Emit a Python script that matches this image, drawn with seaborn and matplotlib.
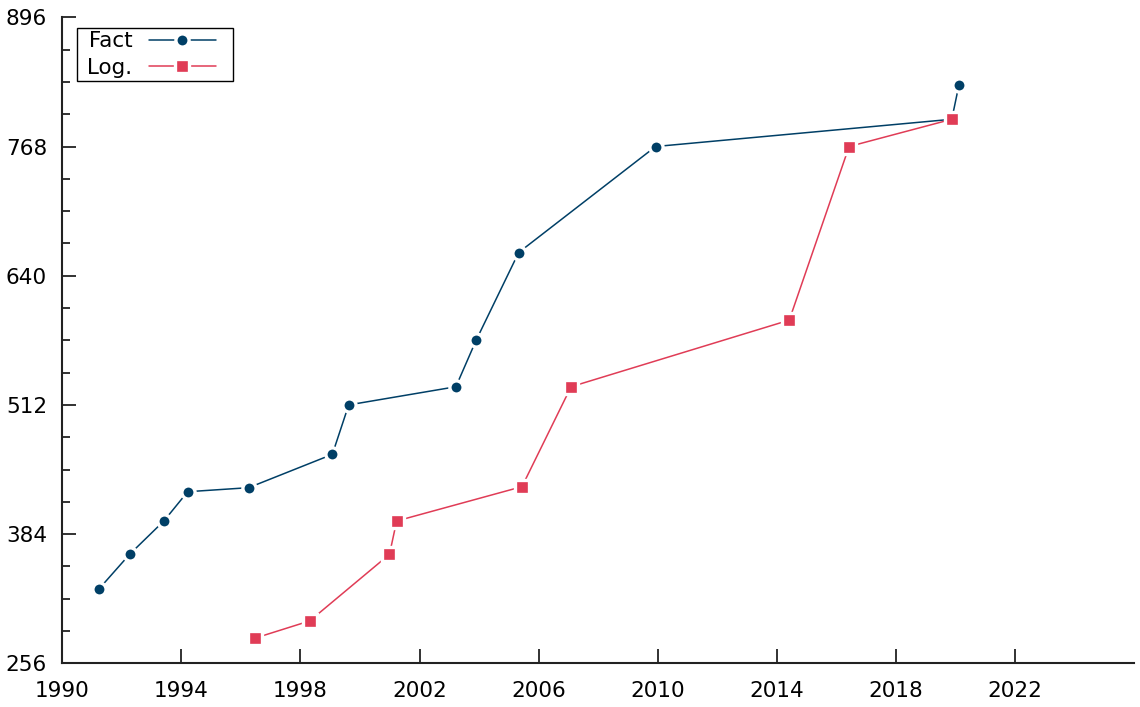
import matplotlib
matplotlib.use("Agg")
import matplotlib.pyplot as plt
from matplotlib.ticker import MultipleLocator
from matplotlib.lines import Line2D
import seaborn as sns
import pandas as pd

fact_year = [1991.24, 1992.26, 1993.41, 1994.21, 1996.26, 1999.07, 1999.62,
             2003.22, 2003.90, 2005.33, 2009.93, 2019.88, 2020.12]
fact_val = [330, 364, 397, 426, 430, 463, 512, 530, 576, 663, 768, 795, 829]
log_year = [1996.48, 1998.31, 2000.99, 2001.23, 2005.44, 2007.09, 2014.42,
            2016.43, 2019.88]
log_val = [281, 298, 364, 397, 431, 530, 596, 768, 795]
series_names = ["Fact", "Log."]
x_ticks = [1990, 1994, 1998, 2002, 2006, 2010, 2014, 2018, 2022]
y_ticks = [256, 384, 512, 640, 768, 896]

df = pd.concat([
    pd.DataFrame({"year": fact_year, "value": fact_val, "series": series_names[0]}),
    pd.DataFrame({"year": log_year, "value": log_val, "series": series_names[1]}),
])

sns.set_theme(style="ticks")
plt.rcParams["font.family"] = ["DejaVu Sans"]
plt.rcParams["xtick.direction"] = "in"
plt.rcParams["ytick.direction"] = "in"
plt.rcParams["text.color"] = "black"
plt.rcParams["xtick.labelcolor"] = "black"
plt.rcParams["ytick.labelcolor"] = "black"

fig = plt.figure(figsize=(11.4, 7.07), dpi=100)
ax = fig.add_axes([0.0547, 0.0618, 0.94, 0.9137])

palette = {"Fact": "#003f66", "Log.": "#e03c56"}
markers = {"Fact": "o", "Log.": "s"}
sns.lineplot(data=df, x="year", y="value", hue="series", style="series",
             palette=palette, markers=markers, dashes=False, sort=False,
             linewidth=1.1, markersize=9.5, markeredgecolor="white",
             markeredgewidth=2.4, ax=ax, legend=False)

ax.set_xlim(1990, 2026)
ax.set_ylim(256, 896)
ax.set_xticks(x_ticks)
ax.set_yticks(y_ticks)
ax.yaxis.set_minor_locator(MultipleLocator(32))
ax.tick_params(axis="both", which="major", direction="in", length=10, width=1.3,
               labelsize=15.5, color="#222222", labelcolor="black")
ax.tick_params(axis="x", which="major", pad=13)
ax.tick_params(axis="y", which="major", pad=11)
ax.tick_params(axis="y", which="minor", direction="in", length=6, width=1.3,
               color="#222222")
for s in ["top", "right"]:
    ax.spines[s].set_visible(False)
for s in ["left", "bottom"]:
    ax.spines[s].set_linewidth(1.5)
    ax.spines[s].set_color("#222222")
ax.set_xlabel("")
ax.set_ylabel("")

handles = [
    Line2D([], [], color=palette[n], marker=markers[n], linewidth=1.1,
           markersize=9.5, markeredgecolor="white", markeredgewidth=2.4)
    for n in series_names
]
leg = ax.legend(handles, [" " + n for n in series_names], loc="upper left",
                bbox_to_anchor=(0.0137, 0.0, 0.1456, 0.9834), mode="expand",
                markerfirst=False,
                fontsize=15.5, handlelength=3.15, handletextpad=0.75,
                borderpad=0.15, labelspacing=0.3, borderaxespad=0,
                fancybox=False, framealpha=1, edgecolor="black")
leg.get_frame().set_linewidth(1.0)

fig.savefig("out.png", dpi=100)
